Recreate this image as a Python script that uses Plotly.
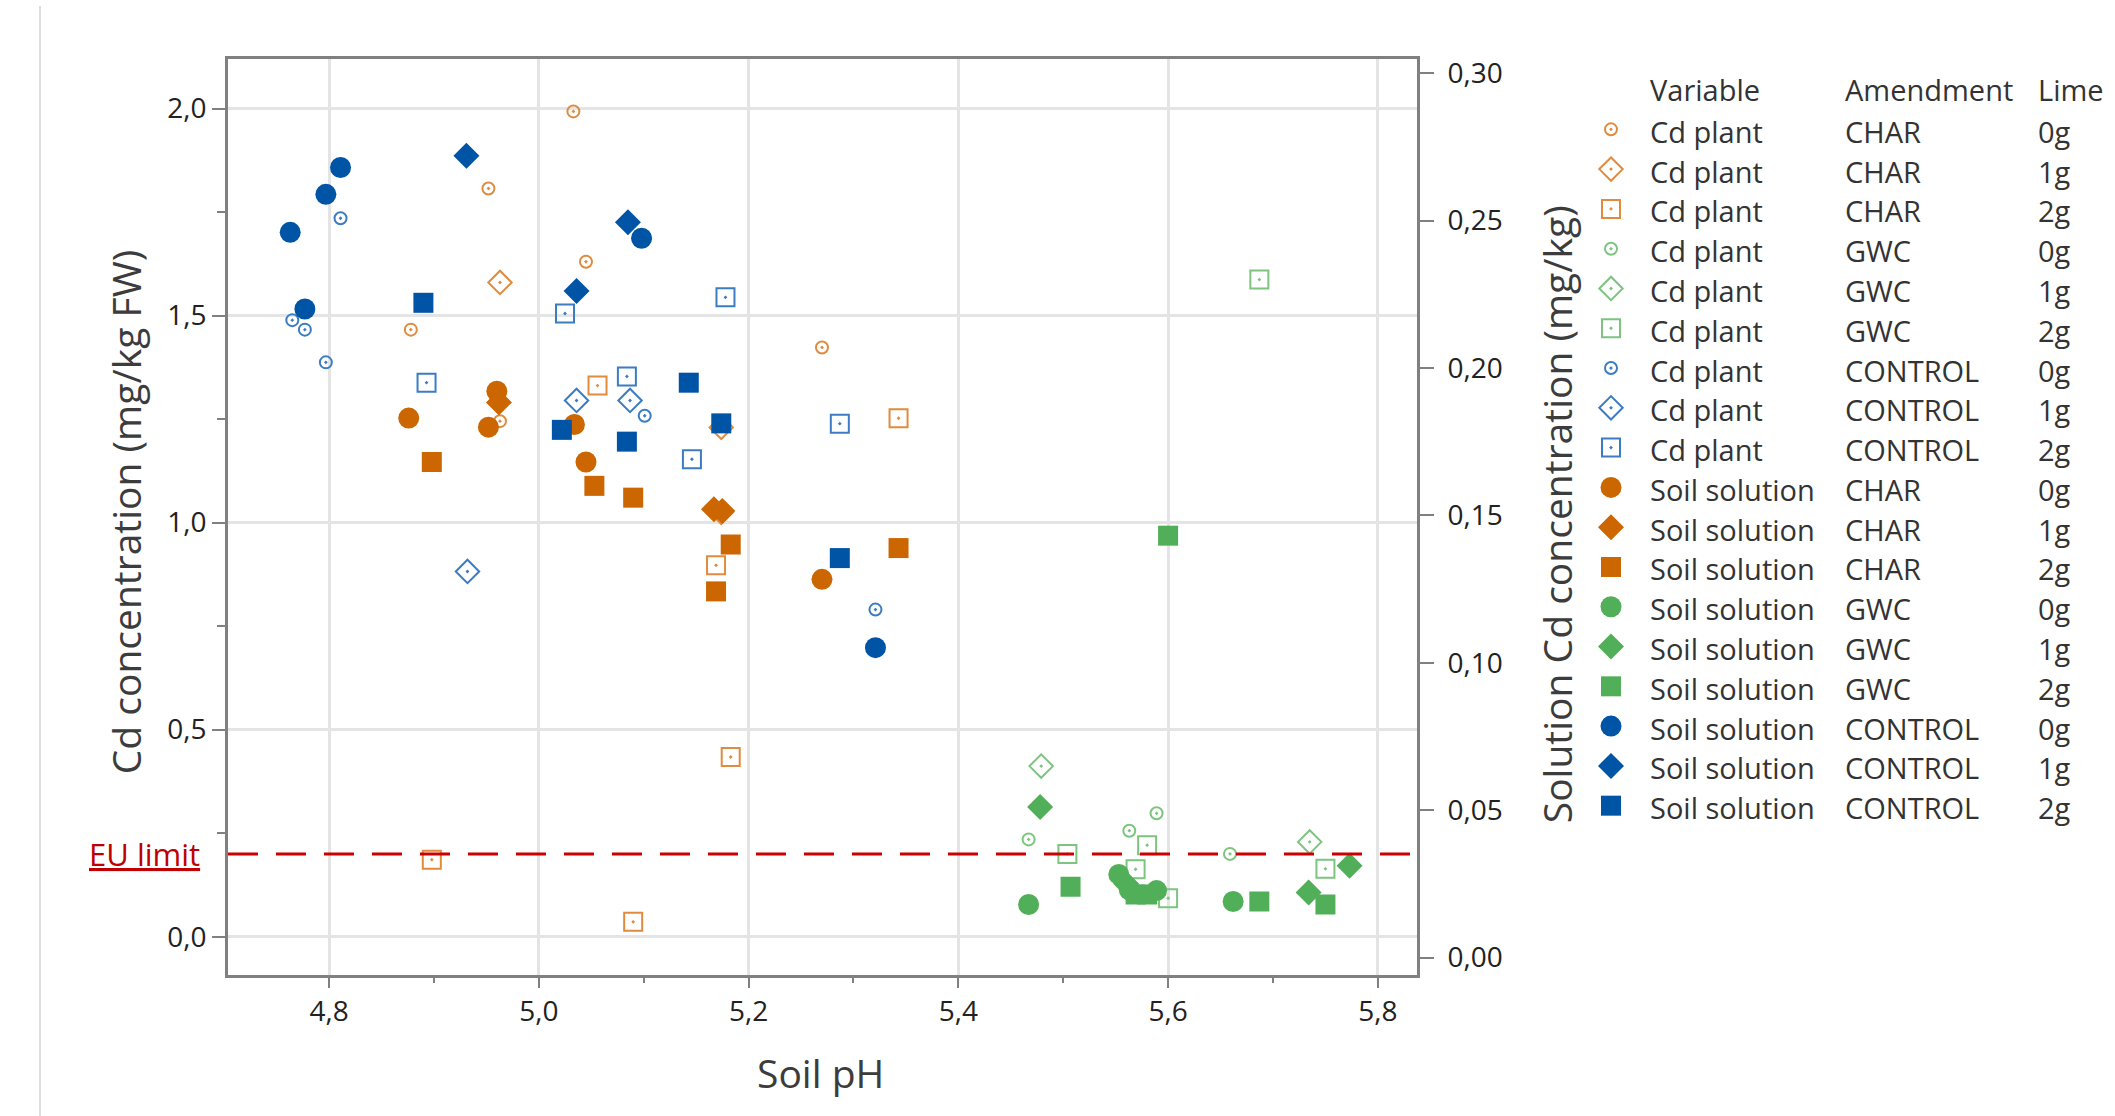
import plotly.graph_objects as go

W, H = 2115, 1116

# ---------------- data ----------------
VARIABLES = ["Cd plant", "Soil solution"]
AMENDMENTS = ["CHAR", "GWC", "CONTROL"]
LIMES = ["0g", "1g", "2g"]
LEGEND_HEADER = ["Variable", "Amendment", "Lime"]
EU_LIMIT = 0.2

X_TITLE = "Soil pH"
Y_TITLE = "Cd concentration (mg/kg FW)"
Y2_TITLE = "Solution Cd concentration (mg/kg)"

# Cd in plant (mg/kg FW) - left axis
plant_char_0g_ph = [5.033, 4.952, 5.045, 4.878, 5.270, 4.963]
plant_char_0g_cd = [1.993, 1.807, 1.630, 1.466, 1.423, 1.245]
plant_char_1g_ph = [4.963, 5.174, 5.174]
plant_char_1g_cd = [1.580, 1.230, 1.025]
plant_char_2g_ph = [5.056, 5.343, 5.169, 5.183, 4.898, 5.090]
plant_char_2g_cd = [1.331, 1.252, 0.897, 0.434, 0.186, 0.036]
plant_gwc_0g_ph = [5.589, 5.563, 5.467, 5.659]
plant_gwc_0g_cd = [0.298, 0.256, 0.235, 0.200]
plant_gwc_1g_ph = [5.479, 5.735]
plant_gwc_1g_cd = [0.412, 0.229]
plant_gwc_2g_ph = [5.687, 5.580, 5.504, 5.569, 5.750, 5.600]
plant_gwc_2g_cd = [1.587, 0.221, 0.200, 0.163, 0.164, 0.093]
plant_control_0g_ph = [4.811, 4.765, 4.777, 4.797, 5.101, 5.321]
plant_control_0g_cd = [1.735, 1.489, 1.466, 1.387, 1.258, 0.790]
plant_control_1g_ph = [5.036, 5.087, 4.932]
plant_control_1g_cd = [1.295, 1.295, 0.882]
plant_control_2g_ph = [5.178, 5.025, 5.084, 4.893, 5.287, 5.146]
plant_control_2g_cd = [1.544, 1.505, 1.353, 1.338, 1.239, 1.153]

# Cd in soil solution (mg/kg) - right axis
soil_char_0g_ph = [4.960, 4.876, 5.034, 4.952, 5.045, 5.270]
soil_char_0g_cd = [0.1921, 0.1830, 0.1808, 0.1799, 0.1681, 0.1283]
soil_char_1g_ph = [4.962, 5.167, 5.175]
soil_char_1g_cd = [0.1883, 0.1521, 0.1515]
soil_char_2g_ph = [4.898, 5.053, 5.090, 5.183, 5.343, 5.169]
soil_char_2g_cd = [0.1681, 0.1600, 0.1560, 0.1401, 0.1389, 0.1242]
soil_gwc_0g_ph = [5.467, 5.662, 5.553, 5.589, 5.563]
soil_gwc_0g_cd = [0.0180, 0.0190, 0.0282, 0.0227, 0.0230]
soil_gwc_1g_ph = [5.478, 5.773, 5.734, 5.560]
soil_gwc_1g_cd = [0.0511, 0.0311, 0.0221, 0.0250]
soil_gwc_2g_ph = [5.600, 5.507, 5.687, 5.750, 5.569, 5.580]
soil_gwc_2g_cd = [0.1431, 0.0240, 0.0190, 0.0180, 0.0214, 0.0214]
soil_control_0g_ph = [4.811, 4.797, 4.763, 5.098, 4.777, 5.321]
soil_control_0g_cd = [0.2680, 0.2589, 0.2460, 0.2440, 0.2200, 0.1051]
soil_control_1g_ph = [4.931, 5.085, 5.036]
soil_control_1g_cd = [0.2720, 0.2494, 0.2261]
soil_control_2g_ph = [4.890, 5.143, 5.174, 5.022, 5.084, 5.287]
soil_control_2g_cd = [0.2221, 0.1950, 0.1812, 0.1790, 0.1750, 0.1355]

SERIES = [
    ("Cd plant", "CHAR", "0g", plant_char_0g_ph, plant_char_0g_cd),
    ("Cd plant", "CHAR", "1g", plant_char_1g_ph, plant_char_1g_cd),
    ("Cd plant", "CHAR", "2g", plant_char_2g_ph, plant_char_2g_cd),
    ("Cd plant", "GWC", "0g", plant_gwc_0g_ph, plant_gwc_0g_cd),
    ("Cd plant", "GWC", "1g", plant_gwc_1g_ph, plant_gwc_1g_cd),
    ("Cd plant", "GWC", "2g", plant_gwc_2g_ph, plant_gwc_2g_cd),
    ("Cd plant", "CONTROL", "0g", plant_control_0g_ph, plant_control_0g_cd),
    ("Cd plant", "CONTROL", "1g", plant_control_1g_ph, plant_control_1g_cd),
    ("Cd plant", "CONTROL", "2g", plant_control_2g_ph, plant_control_2g_cd),
    ("Soil solution", "CHAR", "0g", soil_char_0g_ph, soil_char_0g_cd),
    ("Soil solution", "CHAR", "1g", soil_char_1g_ph, soil_char_1g_cd),
    ("Soil solution", "CHAR", "2g", soil_char_2g_ph, soil_char_2g_cd),
    ("Soil solution", "GWC", "0g", soil_gwc_0g_ph, soil_gwc_0g_cd),
    ("Soil solution", "GWC", "1g", soil_gwc_1g_ph, soil_gwc_1g_cd),
    ("Soil solution", "GWC", "2g", soil_gwc_2g_ph, soil_gwc_2g_cd),
    ("Soil solution", "CONTROL", "0g", soil_control_0g_ph, soil_control_0g_cd),
    ("Soil solution", "CONTROL", "1g", soil_control_1g_ph, soil_control_1g_cd),
    ("Soil solution", "CONTROL", "2g", soil_control_2g_ph, soil_control_2g_cd),
]

# ---------------- styles ----------------
FONT = "Open Sans"
PLANT_COLORS = {"CHAR": "#E08B3E", "GWC": "#7CC47F", "CONTROL": "#3B7CC3"}
SOIL_COLORS = {"CHAR": "#CC6600", "GWC": "#52AF59", "CONTROL": "#0054A6"}
PLANT_SYMBOLS = {"0g": "circle-open-dot", "1g": "diamond-open-dot", "2g": "square-open-dot"}
PLANT_SIZES = {"0g": 12, "1g": 18, "2g": 18}
SOIL_SYMBOLS = {"0g": "circle", "1g": "diamond", "2g": "square"}
SOIL_SIZES = {"0g": 21, "1g": 20, "2g": 20}

AX_GRAY = "#808080"
GRID = "#e4e4e4"

PL, PR, PT, PB = 228, 1417, 53, 974   # plot area in pixels


def fx(p):
    return p / W


def fy(p):
    return 1 - p / H


def marker_for(var, amend, lime):
    if var == "Cd plant":
        return dict(symbol=PLANT_SYMBOLS[lime], size=PLANT_SIZES[lime],
                    color=PLANT_COLORS[amend],
                    line=dict(color=PLANT_COLORS[amend], width=2))
    return dict(symbol=SOIL_SYMBOLS[lime], size=SOIL_SIZES[lime],
                color=SOIL_COLORS[amend], line=dict(width=0))


fig = go.Figure()

for var, amend, lime, xs, ys in SERIES:
    fig.add_trace(go.Scatter(
        x=xs, y=ys, mode="markers",
        marker=marker_for(var, amend, lime),
        yaxis="y" if var == "Cd plant" else "y2",
        xaxis="x",
        name=f"{var} {amend} {lime}",
        showlegend=False,
        hoverinfo="x+y+name",
    ))

# ---------------- custom tabular legend (pixel-scaled helper axes) ----------------
LEG_MARK_X = 1611
LEG_COL_X = [1648, 1843, 2036]
LEG_ROW0 = 126
LEG_STEP = 40
LEG_HEADER_Y = 84
LEG_MARK_DY = -2

for i, (var, amend, lime, xs, ys) in enumerate(SERIES):
    fig.add_trace(go.Scatter(
        x=[LEG_MARK_X], y=[LEG_ROW0 + LEG_STEP * i + LEG_MARK_DY],
        mode="markers", marker=marker_for(var, amend, lime),
        xaxis="x3", yaxis="y3", showlegend=False, hoverinfo="skip",
    ))

annotations = []
LEG_FONT = dict(family=FONT, size=29, color="#333333")
for j, head in enumerate(LEGEND_HEADER):
    annotations.append(dict(x=LEG_COL_X[j], y=LEG_HEADER_Y, xref="x3", yref="y3",
                            text=head, showarrow=False, xanchor="left",
                            yanchor="middle", font=LEG_FONT))
for i, (var, amend, lime, xs, ys) in enumerate(SERIES):
    for j, txt in enumerate([var, amend, lime]):
        annotations.append(dict(x=LEG_COL_X[j], y=LEG_ROW0 + LEG_STEP * i,
                                xref="x3", yref="y3", text=txt, showarrow=False,
                                xanchor="left", yanchor="middle", font=LEG_FONT))

# axis titles
TITLE_FONT = dict(family=FONT, size=39, color="#3c3c3c")
annotations.append(dict(x=fx(820), y=fy(1072), xref="paper", yref="paper",
                        text=X_TITLE, showarrow=False, font=TITLE_FONT,
                        xanchor="center", yanchor="middle"))
annotations.append(dict(x=fx(125), y=fy(509), xref="paper", yref="paper",
                        text=Y_TITLE, showarrow=False, font=TITLE_FONT,
                        textangle=-90, xanchor="center", yanchor="middle"))
annotations.append(dict(x=fx(1556), y=fy(511), xref="paper", yref="paper",
                        text=Y2_TITLE, showarrow=False, font=TITLE_FONT,
                        textangle=-90, xanchor="center", yanchor="middle"))
# EU limit label
annotations.append(dict(x=fx(144), y=EU_LIMIT, xref="paper", yref="y",
                        text="EU limit", showarrow=False,
                        font=dict(family=FONT, size=31, color="#C00000",
                                  lineposition="under"),
                        xanchor="center", yanchor="middle"))

shapes = [
    dict(type="line", xref="x domain", yref="y", x0=0, x1=1,
         y0=EU_LIMIT, y1=EU_LIMIT,
         line=dict(color="#CC0000", width=3, dash="30px,18px"), layer="above"),
    dict(type="line", xref="paper", yref="paper", x0=fx(40), x1=fx(40), y0=0, y1=1,
         line=dict(color="#dcdcdc", width=2)),
]

TICK_FONT = dict(family=FONT, size=28, color="#222222")

fig.update_layout(
    width=W, height=H,
    margin=dict(l=0, r=0, t=0, b=0),
    paper_bgcolor="white", plot_bgcolor="rgba(0,0,0,0)",
    font=dict(family=FONT),
    separators=", ",
    showlegend=False,
    annotations=annotations,
    shapes=shapes,
    xaxis=dict(
        domain=[fx(PL), fx(PR)], anchor="y",
        range=[4.7037, 5.8373], tick0=4.8, dtick=0.2, tickformat=".1f",
        showgrid=True, gridcolor=GRID, gridwidth=3, zeroline=False,
        showline=True, linecolor=AX_GRAY, linewidth=3, mirror=True,
        ticks="outside", ticklen=10, tickwidth=2, tickcolor=AX_GRAY,
        tickfont=TICK_FONT, ticklabelstandoff=0,
        minor=dict(tick0=4.8, dtick=0.1, ticks="outside", ticklen=5,
                   tickwidth=2, tickcolor=AX_GRAY, showgrid=False),
    ),
    yaxis=dict(
        domain=[fy(PB), fy(PT)], anchor="x",
        range=[-0.0919, 2.1203], tick0=0, dtick=0.5, tickformat=".1f",
        showgrid=True, gridcolor=GRID, gridwidth=3, zeroline=False,
        showline=True, linecolor=AX_GRAY, linewidth=3,
        ticks="outside", ticklen=13, tickwidth=2, tickcolor=AX_GRAY,
        tickfont=TICK_FONT, ticklabelstandoff=0,
        minor=dict(tick0=0, dtick=0.25, ticks="outside", ticklen=8,
                   tickwidth=2, tickcolor=AX_GRAY, showgrid=False),
    ),
    yaxis2=dict(
        overlaying="y", side="right", anchor="x",
        range=[-0.00585, 0.3049], tick0=0, dtick=0.05, tickformat=".2f",
        showgrid=False, zeroline=False,
        showline=True, linecolor=AX_GRAY, linewidth=3,
        ticks="outside", ticklen=14, tickwidth=2, tickcolor=AX_GRAY,
        tickfont=TICK_FONT, ticklabelstandoff=8,
    ),
    xaxis3=dict(domain=[0, 1], anchor="y3", range=[0, W], visible=False,
                fixedrange=True),
    yaxis3=dict(domain=[0, 1], anchor="x3", range=[H, 0], visible=False,
                fixedrange=True),
)

fig.write_html("out.html")
